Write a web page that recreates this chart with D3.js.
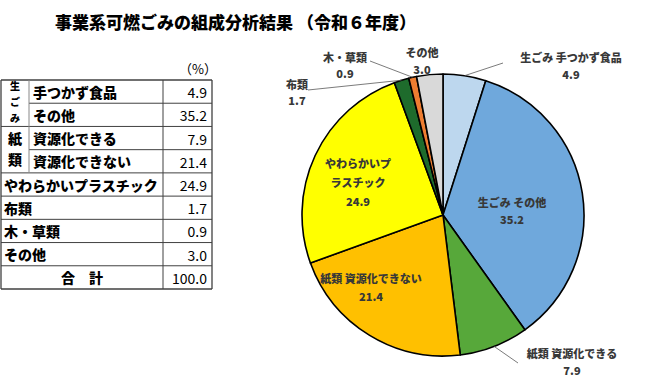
<!DOCTYPE html>
<html><head><meta charset="utf-8">
<script src="https://cdn.jsdelivr.net/npm/d3@7"></script>
<style>
body{margin:0;background:#fff;}
text{font-family:"Noto Sans CJK JP","Noto Sans",sans-serif;}
</style></head>
<body><svg id="c" width="660" height="382"></svg>
<script>
// ---- data ----
const title = "事業系可燃ごみの組成分析結果 （令和６年度）";
const unitLabel = "（%）";
const categories = ["生ごみ 手つかず食品","生ごみ その他","紙類 資源化できる","紙類 資源化できない","やわらかいプラスチック","布類","木・草類","その他"];
const pieLabelLines = [["生ごみ 手つかず食品"],["生ごみ その他"],["紙類 資源化できる"],["紙類 資源化できない"],["やわらかいプ","ラスチック"],["布類"],["木・草類"],["その他"]];
const values = [4.9,35.2,7.9,21.4,24.9,1.7,0.9,3.0];
const tableGroups = [["生","ご","み"],["紙","類"]];
const tableItems = ["手つかず食品","その他","資源化できる","資源化できない","やわらかいプラスチック","布類","木・草類","その他"];
const totalLabel = "合　計";
const totalValue = 100.0;

// ---- style / layout ----
const colors = ["#BDD7EE","#6FA8DC","#57A83A","#FFC000","#FFFF00","#1E6B2C","#ED7D31","#D9D9D9"];
const labelPos = [[571,57],[512,202],[572,353],[371,278],[358,163],[297,84],[345,57],[422,52]];
const lineH = [17,17,17,18,19,16,16,17];
const leaderEnd = [[503,63],null,[518,363],null,null,[308,90],[370,61],null];

const svg = d3.select("#c");

svg.append("text").attr("x",55).attr("y",21).attr("dominant-baseline","central")
  .attr("font-size",17).attr("font-weight",900).attr("fill","#000").text(title);

// ---- table ----
const tx0=1, tx1=29, tx2=163, tx3=212, ty0=80, rows=9;
const y = d3.scaleLinear().domain([0,rows]).range([ty0,289]);
const g = svg.append("g");
g.append("text").attr("x",198).attr("y",68).attr("text-anchor","middle").attr("dominant-baseline","central")
  .attr("font-size",13).attr("fill","#000").text(unitLabel);
const lc="#404040";
for(let i=0;i<=rows;i++){
  const sub = (i===1||i===3);
  g.append("line").attr("x1",sub?tx1:tx0).attr("x2",tx3).attr("y1",y(i)).attr("y2",y(i))
   .attr("stroke",lc).attr("stroke-width",(i===0||i===rows)?1.3:1);
}
g.append("line").attr("x1",tx0).attr("x2",tx0).attr("y1",y(0)).attr("y2",y(rows)).attr("stroke",lc).attr("stroke-width",1.3);
g.append("line").attr("x1",tx3).attr("x2",tx3).attr("y1",y(0)).attr("y2",y(rows)).attr("stroke",lc).attr("stroke-width",1.3);
g.append("line").attr("x1",tx2).attr("x2",tx2).attr("y1",y(0)).attr("y2",y(rows)).attr("stroke",lc).attr("stroke-width",1);
g.append("line").attr("x1",tx1).attr("x2",tx1).attr("y1",y(0)).attr("y2",y(4)).attr("stroke","#888").attr("stroke-width",1);
const gy0 = [[85,101.5,117],[138,159]];
tableGroups[0].forEach((c,i)=>g.append("text").attr("x",15).attr("y",gy0[0][i]).attr("text-anchor","middle").attr("dominant-baseline","central").attr("font-size",10).attr("font-weight",900).text(c));
tableGroups[1].forEach((c,i)=>g.append("text").attr("x",15).attr("y",gy0[1][i]).attr("text-anchor","middle").attr("dominant-baseline","central").attr("font-size",14).attr("font-weight",900).text(c));
tableItems.forEach((t,i)=>{
  g.append("text").attr("x",i<4?33:4).attr("y",(y(i)+y(i+1))/2).attr("dominant-baseline","central")
   .attr("font-size",14).attr("font-weight",900).attr("fill","#000").text(t);
  g.append("text").attr("x",207).attr("y",(y(i)+y(i+1))/2+0.5).attr("text-anchor","end").attr("dominant-baseline","central")
   .attr("font-family","Roboto, 'Liberation Sans', sans-serif").attr("font-size",14).attr("fill","#000").text(values[i].toFixed(1));
});
g.append("text").attr("x",82).attr("y",(y(8)+y(9))/2).attr("text-anchor","middle").attr("dominant-baseline","central")
  .attr("font-size",14).attr("font-weight",900).text(totalLabel);
g.append("text").attr("x",207).attr("y",(y(8)+y(9))/2+0.5).attr("text-anchor","end").attr("dominant-baseline","central")
  .attr("font-family","Roboto, 'Liberation Sans', sans-serif").attr("font-size",14).text(totalValue.toFixed(1));

// ---- pie ----
const cx=443, cy=215, R=141;
const pie = d3.pie().sort(null).value(d=>d);
const arcs = pie(values);
const arc = d3.arc().innerRadius(0).outerRadius(R);
const pg = svg.append("g").attr("transform",`translate(${cx},${cy})`);
pg.selectAll("path").data(arcs).join("path").attr("d",arc)
  .attr("fill",(d,i)=>colors[i]).attr("stroke","#000").attr("stroke-width",1.6).attr("stroke-linejoin","round");

arcs.forEach((d,i)=>{
  if(!leaderEnd[i]) return;
  const a=(d.startAngle+d.endAngle)/2;
  const px=cx+R*Math.sin(a), py=cy-R*Math.cos(a);
  svg.append("line").attr("x1",px).attr("y1",py).attr("x2",leaderEnd[i][0]).attr("y2",leaderEnd[i][1])
    .attr("stroke","#595959").attr("stroke-width",0.8);
});
arcs.forEach((d,i)=>{
  const lines = pieLabelLines[i].concat([values[i].toFixed(1)]);
  lines.forEach((t,k)=>{
    svg.append("text").attr("x",labelPos[i][0]).attr("y",labelPos[i][1]+k*lineH[i])
      .attr("text-anchor","middle").attr("dominant-baseline","central")
      .attr("font-size",11).attr("font-weight",900).attr("fill","#383838").text(t);
  });
});
</script></body></html>
